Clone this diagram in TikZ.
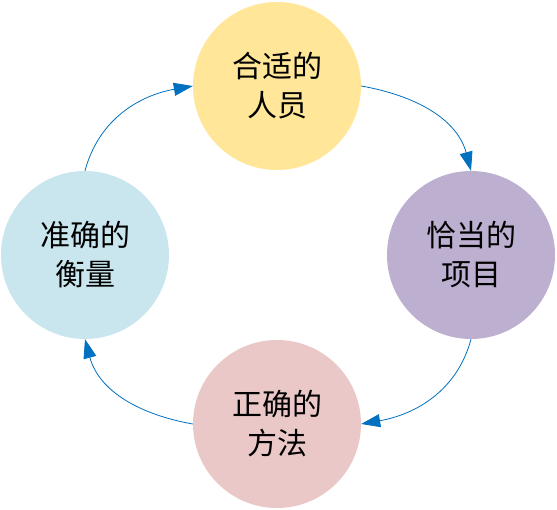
\documentclass[tikz,border=0pt]{standalone}
\usepackage{fontspec}
\setmainfont{Noto Sans CJK SC}
\usetikzlibrary{arrows.meta}
\definecolor{cyellow}{HTML}{FFE699}
\definecolor{cpurple}{HTML}{BDAFD0}
\definecolor{cpink}{HTML}{EBC8C8}
\definecolor{cblue}{HTML}{C9E6EE}
\definecolor{carrow}{HTML}{0070C0}
\begin{document}
\begin{tikzpicture}[x=1pt,y=-1pt,
  ball/.style={circle,minimum size=168pt,inner sep=0pt,draw=none,font=\fontsize{30}{39}\selectfont,align=center},
  link/.style={draw=carrow,line width=0.8pt,-{Triangle[length=19pt,width=13pt]}}]
\useasboundingbox (0,0) rectangle (557,510);
\node[ball,fill=cyellow] (top) at (277,86) {合适的\\人员};
\node[ball,fill=cpurple] (right) at (471,255) {恰当的\\项目};
\node[ball,fill=cpink] (bottom) at (277,424) {正确的\\方法};
\node[ball,fill=cblue] (left) at (85,255) {准确的\\衡量};
\draw[link] (left.north) to[out=75,in=190] (top.west);
\draw[link] (top.east) to[out=-10,in=105] (right.north);
\draw[link] (right.south) to[out=-105,in=10] (bottom.east);
\draw[link] (bottom.west) to[out=170,in=-75] (left.south);
\end{tikzpicture}
\end{document}
